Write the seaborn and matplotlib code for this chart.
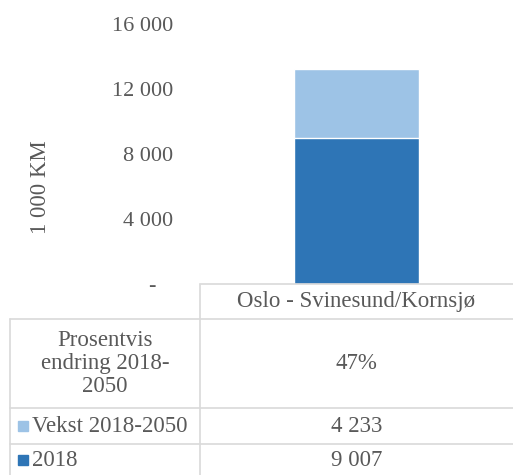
import pandas as pd
import matplotlib.pyplot as plt
import seaborn as sns
from matplotlib.lines import Line2D
from matplotlib.patches import Rectangle
from matplotlib.ticker import FuncFormatter

# data
categories = ['Oslo - Svinesund/Kornsjø']
base_2018 = [9007]
growth = [4233]
pct_change = ['47%']
series_names = ['Vekst 2018-2050', '2018']
row_label_pct = 'Prosentvis\nendring 2018-\n2050'
y_ticks = [0, 4000, 8000, 12000, 16000]

DARK = '#2E75B6'
LIGHT = '#9DC3E6'
TEXT = '#595959'
GRID = '#D9D9D9'
FS = 16.5

sns.set_theme(style='white')
plt.rcParams['font.family'] = ['Liberation Serif', 'DejaVu Serif']

W, H = 513, 475
fig = plt.figure(figsize=(W / 100, H / 100), dpi=100)


def fx(px):
    return px / W


def fy(py):
    return 1 - py / H


ax = fig.add_axes([fx(200), fy(284), fx(313), fy(24) - fy(284)])

df = pd.DataFrame({'category': categories, 'base': base_2018, 'growth': growth})
df['total'] = df['base'] + df['growth']

sns.barplot(data=df, x='category', y='total', color=LIGHT, width=0.4,
            saturation=1, ax=ax)
sns.barplot(data=df, x='category', y='base', color=DARK, width=0.4,
            saturation=1, ax=ax)

ax.set_ylim(0, 16000)
ax.set_xlim(-0.5, 0.5)
ax.set_yticks(y_ticks)
ax.yaxis.set_major_formatter(FuncFormatter(
    lambda v, p: '-   ' if v == 0 else f'{int(v):,}'.replace(',', ' ')))
ax.tick_params(axis='y', labelsize=16, colors=TEXT, length=0, pad=19)
ax.set_xticks([])
ax.set_xlabel('')
ax.set_ylabel('1 000 KM', fontsize=FS, color=TEXT)
ax.yaxis.set_label_coords(-0.476, 0.373)
for s in ['top', 'right', 'left']:
    ax.spines[s].set_visible(False)
ax.spines['bottom'].set_color(GRID)
ax.spines['bottom'].set_linewidth(1.2)


# data table below the plot
def hline(x0, x1, y):
    fig.add_artist(Line2D([fx(x0), fx(x1)], [fy(y), fy(y)], color=GRID, lw=1.2))


def vline(x, y0, y1):
    fig.add_artist(Line2D([fx(x), fx(x)], [fy(y0), fy(y1)], color=GRID, lw=1.2))


col_x = 200
left_x = 10
right_x = 513
rows = [285, 319, 408, 444, 476]

hline(left_x, right_x, rows[1])
hline(left_x, right_x, rows[2])
hline(left_x, right_x, rows[3])
vline(col_x, rows[0], rows[4])
vline(left_x, rows[1], rows[4])

mid_col = (col_x + right_x) / 2
fig.text(fx(mid_col), fy((rows[0] + rows[1]) / 2), categories[0],
         ha='center', va='center', fontsize=FS, color=TEXT)

fig.text(fx((left_x + col_x) / 2), fy((rows[1] + rows[2]) / 2), row_label_pct,
         ha='center', va='center', fontsize=FS, color=TEXT, linespacing=1.15)
fig.text(fx(mid_col), fy((rows[1] + rows[2]) / 2), pct_change[0],
         ha='center', va='center', fontsize=FS, color=TEXT)

row_vals = [growth[0], base_2018[0]]
row_cols = [LIGHT, DARK]
for i, (name, val, c) in enumerate(zip(series_names, row_vals, row_cols)):
    yc = (rows[2 + i] + rows[3 + i]) / 2
    fig.add_artist(Rectangle((fx(18), fy(yc + 5)), fx(10), fy(yc - 5) - fy(yc + 5),
                             color=c, transform=fig.transFigure))
    fig.text(fx(32), fy(yc), name, ha='left', va='center', fontsize=FS, color=TEXT)
    fig.text(fx(mid_col), fy(yc), f'{val:,}'.replace(',', ' '),
             ha='center', va='center', fontsize=FS, color=TEXT)

fig.savefig('out.png', dpi=100)
